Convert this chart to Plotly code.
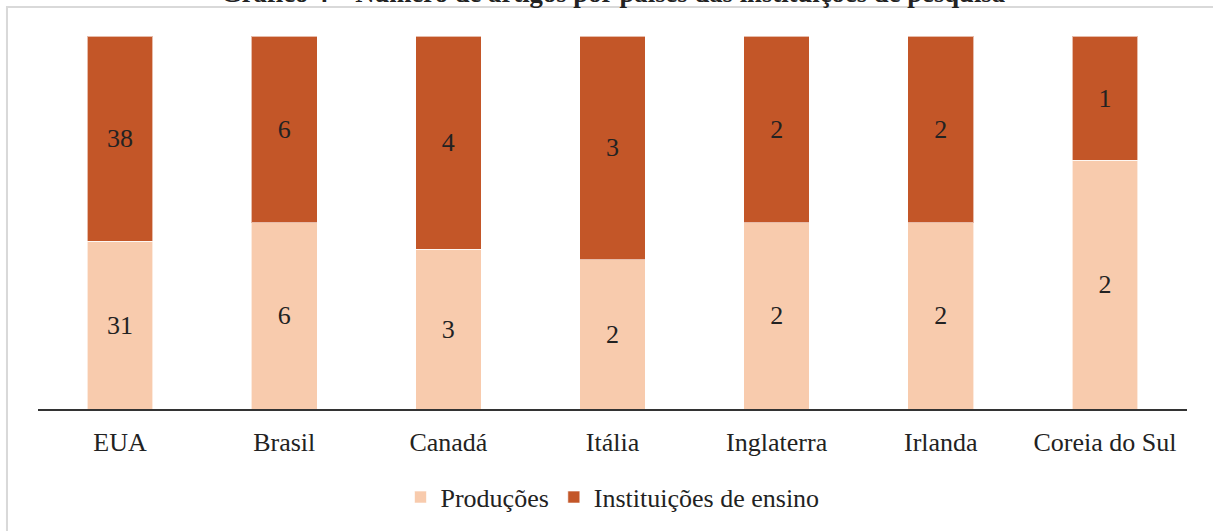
import plotly.graph_objects as go

categories = ["EUA", "Brasil", "Canadá", "Itália", "Inglaterra", "Irlanda", "Coreia do Sul"]
producoes = [31, 6, 3, 2, 2, 2, 2]
instituicoes = [38, 6, 4, 3, 2, 2, 1]
series_names = ["Produções", "Instituições de ensino"]
title_text = "Gráfico 4 – Número de artigos por países das instituições de pesquisa"

FONT = "Liberation Serif"
light = "#F8CBAD"
dark = "#C35628"

fig = go.Figure()
fig.add_trace(go.Bar(
    x=categories, y=producoes, name=series_names[0],
    marker=dict(color=light, line=dict(color="rgba(255,255,255,0.6)", width=1)),
    text=producoes, textposition="inside", insidetextanchor="middle",
    textfont=dict(family=FONT, size=26, color="#222222"),
    hoverinfo="x+y",
))
fig.add_trace(go.Bar(
    x=categories, y=instituicoes, name=series_names[1],
    marker=dict(color=dark, line=dict(color="rgba(255,255,255,0.6)", width=1)),
    text=instituicoes, textposition="inside", insidetextanchor="middle",
    textfont=dict(family=FONT, size=26, color="#222222"),
    hoverinfo="x+y",
))

fig.update_layout(
    barmode="stack",
    barnorm="percent",
    bargap=0.6,
    width=1213, height=531,
    margin=dict(l=38, r=26, t=36, b=121),
    paper_bgcolor="white",
    plot_bgcolor="white",
    font=dict(family=FONT, size=26, color="#222222"),
    annotations=[dict(
        text="<b>" + title_text + "</b>",
        xref="paper", yref="paper", x=0.5, y=1.0,
        xanchor="center", yanchor="middle", yshift=43,
        showarrow=False,
        font=dict(family=FONT, size=26.7, color="#222222"),
    )],
    showlegend=True,
    legend=dict(
        orientation="h", x=0.5, xanchor="center", y=-0.233, yanchor="middle",
        font=dict(family=FONT, size=26, color="#222222"),
        traceorder="normal",
        itemclick=False,
    ),
    xaxis=dict(
        showline=True, linecolor="#333333", linewidth=2,
        ticks="", showgrid=False, zeroline=False,
        ticklabelstandoff=9,
        tickfont=dict(family=FONT, size=26, color="#222222"),
        fixedrange=True,
    ),
    yaxis=dict(
        visible=False, range=[0, 100], showgrid=False, zeroline=False,
        fixedrange=True,
    ),
    shapes=[dict(
        type="rect", xref="paper", yref="paper",
        x0=-0.027, x1=1.03, y0=-0.4, y1=1.0775,
        line=dict(color="#D9D9D9", width=2), fillcolor="rgba(0,0,0,0)",
        layer="below",
    )],
)

fig.write_html(
    "out.html",
    config={"displayModeBar": False},
    post_script="document.body.style.margin='0';",
)
